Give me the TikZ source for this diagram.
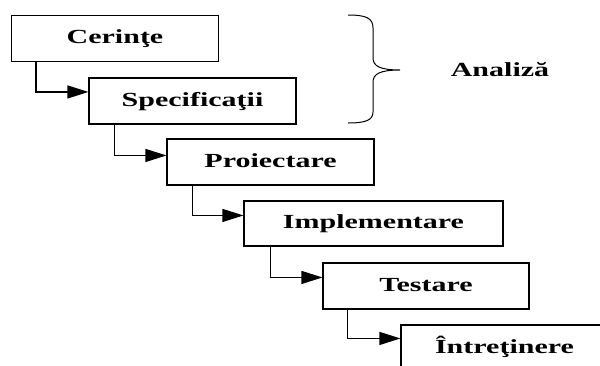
\documentclass[tikz,border=0pt]{standalone}
\usepackage{fontspec}
\newfontfamily\diagfont{Liberation Serif}[FakeStretch=1.5]
\usetikzlibrary{arrows.meta,calc}
\begin{document}
\begin{tikzpicture}[x=1pt,y=-1pt,
  phase/.style={draw,line width=1.1pt,minimum width=207pt,minimum height=46pt,
    inner sep=0pt,font=\diagfont\bfseries\fontsize{20}{24}\selectfont,
    text height=14pt,text depth=4pt},
  flow/.style={line width=1.1pt,-{Triangle[length=21pt,width=13pt]}},
  label/.style={font=\diagfont\bfseries\fontsize{20}{24}\selectfont}]
\useasboundingbox (0,0) rectangle (600,365);
\clip (0,0) rectangle (600,365);
% waterfall stages
\node[phase] (c1) at (115,38.5) {Cerinţe};
\node[phase] (c2) at (192.5,101) {Specificaţii};
\node[phase] (c3) at (270.5,162) {Proiectare};
\node[phase,minimum width=259pt,minimum height=45pt] (c4) at (373.5,223.5) {Implementare};
\node[phase,minimum width=206pt] (c5) at (426,286) {Testare};
\node[phase] (c6) at (504.5,348) {Întreţinere};
% step connectors
\draw[flow] ($(c1.south west)+(25,0)$) |- ($(c2.north west)+(0,14.5)$);
\draw[flow] ($(c2.south west)+(26,0)$) |- ($(c3.north west)+(0,17)$);
\draw[flow] ($(c3.south west)+(26,0)$) |- ($(c4.north west)+(0,15)$);
\draw[flow] ($(c4.south west)+(27,0)$) |- ($(c5.north west)+(0,15)$);
\draw[flow] ($(c5.south west)+(25,0)$) |- ($(c6.north west)+(0,14)$);
% brace grouping the first two stages
\draw[line width=1pt] (348,15) .. controls (366,15) and (373,18) .. (373,28)
  -- (373,58) .. controls (373,66) and (380,70) .. (400,70)
  .. controls (380,70) and (373,74) .. (373,82)
  -- (373,112) .. controls (373,120) and (366,123) .. (348,123);
\node[label] (an) at (500,70) {Analiză};
\end{tikzpicture}
\end{document}
